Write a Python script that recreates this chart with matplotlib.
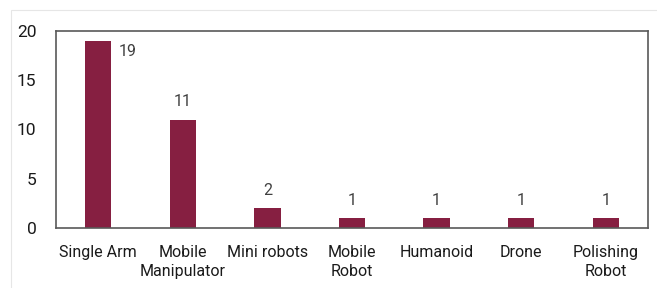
import matplotlib.pyplot as plt
from matplotlib.patches import Rectangle

categories = ["Single Arm", "Mobile\nManipulator", "Mini robots", "Mobile\nRobot",
              "Humanoid", "Drone", "Polishing\nRobot"]
counts = [19, 11, 2, 1, 1, 1, 1]

plt.rcParams['font.family'] = ['Roboto', 'DejaVu Sans']

fig = plt.figure(figsize=(6.57, 2.88), dpi=100)
W, H = 657, 288
ax = fig.add_axes([56 / W, 1 - 228 / H, (648 - 56) / W, (228 - 31) / H])

# light outer frame
fig.patches.append(Rectangle((11 / W, -0.1), 1.2, 1 - 10 / H + 0.1,
                             transform=fig.transFigure, fill=False,
                             edgecolor="#e6e6e6", linewidth=0.8))

x = range(len(categories))
bars = ax.bar(x, counts, width=0.31, color="#861f41")

for i, v in enumerate(counts):
    if i == 0:
        ax.annotate(str(v), (i, v), xytext=(21, -8), textcoords="offset points",
                    ha="center", va="center", fontsize=11.5, color="#404040")
    else:
        ax.annotate(str(v), (i, v), xytext=(0, 13), textcoords="offset points",
                    ha="center", va="center", fontsize=11.5, color="#404040")

ax.set_xlim(-0.5, len(categories) - 0.5)
ax.set_ylim(0, 20)
ax.set_yticks([0, 5, 10, 15, 20])
ax.set_xticks(list(x))
ax.set_xticklabels(categories, fontsize=11.5, color="#1a1a1a", linespacing=1.35)
ax.tick_params(axis="y", length=0, labelsize=12.5, colors="#1a1a1a", pad=14)
ax.tick_params(axis="x", length=0, colors="#1a1a1a", pad=12)
for s in ax.spines.values():
    s.set_color("#595959")
    s.set_linewidth(1.2)

fig.savefig("out.png", dpi=100)
